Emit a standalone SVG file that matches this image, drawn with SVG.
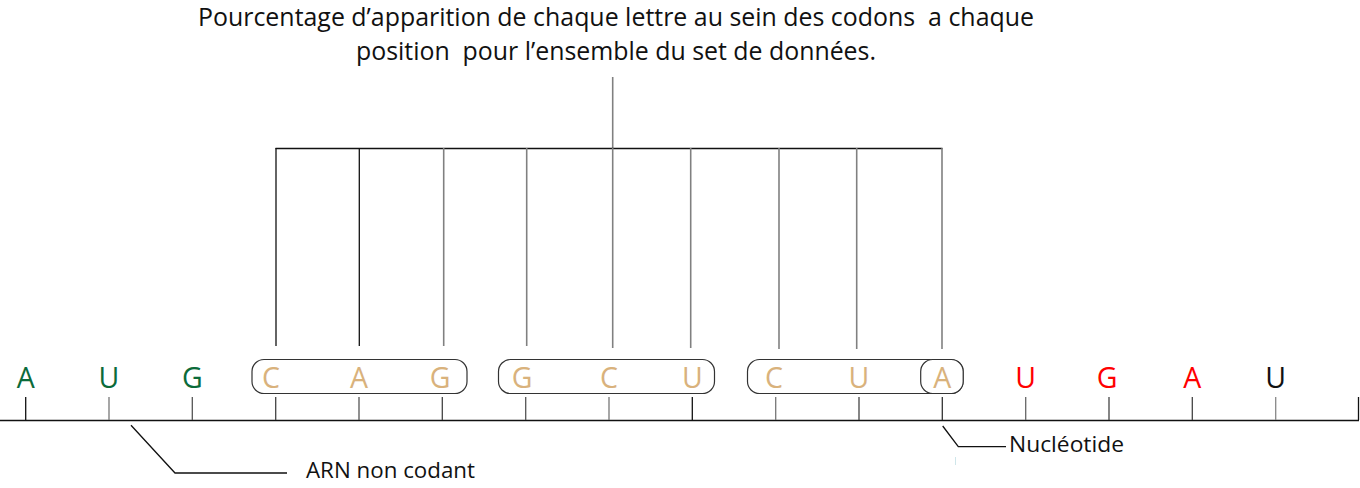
<svg xmlns="http://www.w3.org/2000/svg" width="1360" height="488" viewBox="0 0 1360 488">
<style>
.t{font-family:"Open Sans","Liberation Sans",sans-serif;fill:#111;white-space:pre}
.n{font-family:"Open Sans","Liberation Sans",sans-serif;font-size:28.5px;text-anchor:middle}
.g{fill:#0b6b3a}.c{fill:#d9b27c}.r{fill:#ff0000}.k{fill:#111}
.ln{stroke:#111;stroke-width:1.3;fill:none}
.gy{stroke:#808080;stroke-width:1.6;fill:none}
.bx{stroke:#333;stroke-width:1.2;fill:#fff}
</style>
<rect width="1360" height="488" fill="#fff"/>
<g id="title">
<text class="t" x="616" y="26" font-size="25.5" text-anchor="middle" textLength="836" lengthAdjust="spacingAndGlyphs" xml:space="preserve">Pourcentage d’apparition de chaque lettre au sein des codons  a chaque</text>
<text class="t" x="616" y="60" font-size="25.5" text-anchor="middle" textLength="520" lengthAdjust="spacingAndGlyphs" xml:space="preserve">position  pour l’ensemble du set de données.</text>
</g>
<g id="connectors">
<line class="gy" x1="612.7" y1="77" x2="612.7" y2="148.5"/>
<line class="ln" x1="275.5" y1="148.5" x2="942.5" y2="148.5"/>
<line class="ln" x1="276" y1="148" x2="276" y2="346"/>
<line class="ln" x1="359.3" y1="148" x2="359.3" y2="346"/>
<line class="gy" x1="443.7" y1="148" x2="443.7" y2="346"/>
<line class="gy" x1="526.7" y1="148" x2="526.7" y2="346"/>
<line class="gy" x1="612.7" y1="148" x2="612.7" y2="348"/>
<line class="gy" x1="690.7" y1="148" x2="690.7" y2="348"/>
<line class="gy" x1="779" y1="148" x2="779" y2="349"/>
<line class="gy" x1="856.7" y1="148" x2="856.7" y2="349"/>
<line class="gy" x1="942" y1="148" x2="942" y2="349"/>
<polyline class="ln" points="131,425.3 175,473 287,473"/>
<polyline class="ln" points="942.7,426 958.3,446.7 1006,446.7"/>
<line x1="955.5" y1="457" x2="955.5" y2="465" stroke="#cfe6ea" stroke-width="1"/>
</g>
<g id="axis">
<line class="ln" x1="0" y1="420.5" x2="1359" y2="420.5"/>
<g class="ln">
<line x1="25.7" y1="397" x2="25.7" y2="420"/>
<line x1="109" y1="397" x2="109" y2="420" stroke="#777"/>
<line x1="192.3" y1="397" x2="192.3" y2="420" stroke="#555"/>
<line x1="275.7" y1="397" x2="275.7" y2="420" stroke="#444"/>
<line x1="359" y1="397" x2="359" y2="420" stroke="#555"/>
<line x1="442.3" y1="397" x2="442.3" y2="420" stroke="#444"/>
<line x1="525.7" y1="397" x2="525.7" y2="420" stroke="#555"/>
<line x1="609" y1="397" x2="609" y2="420" stroke="#777"/>
<line x1="692.3" y1="397" x2="692.3" y2="420"/>
<line x1="775.7" y1="397" x2="775.7" y2="420" stroke="#777"/>
<line x1="859" y1="397" x2="859" y2="420" stroke="#444"/>
<line x1="942.3" y1="397" x2="942.3" y2="420" stroke="#333"/>
<line x1="1025.7" y1="397" x2="1025.7" y2="420" stroke="#666"/>
<line x1="1109" y1="397" x2="1109" y2="420" stroke="#444"/>
<line x1="1192.3" y1="397" x2="1192.3" y2="420" stroke="#444"/>
<line x1="1275.7" y1="397" x2="1275.7" y2="420" stroke="#888"/>
<line x1="1358.5" y1="397" x2="1358.5" y2="420"/>
</g>
</g>
<g id="codon1">
<rect class="bx" x="252" y="359.5" width="215" height="34" rx="12"/>
</g>
<g id="codon2">
<rect class="bx" x="498.5" y="359.5" width="216" height="34" rx="12"/>
</g>
<g id="codon3">
<rect class="bx" x="747.5" y="359.5" width="215.5" height="34" rx="12"/>
<rect class="bx" x="920.7" y="359.5" width="42.5" height="34" rx="12"/>
</g>
<g id="nucleotides">
<text class="n g" x="25.7" y="388">A</text>
<text class="n g" x="109" y="388">U</text>
<text class="n g" x="192.3" y="388">G</text>
<text class="n c" x="271" y="388">C</text>
<text class="n c" x="359" y="388">A</text>
<text class="n c" x="440" y="388">G</text>
<text class="n c" x="522" y="388">G</text>
<text class="n c" x="609" y="388">C</text>
<text class="n c" x="692.3" y="388">U</text>
<text class="n c" x="774" y="388">C</text>
<text class="n c" x="859" y="388">U</text>
<text class="n c" x="942.3" y="388">A</text>
<text class="n r" x="1025.7" y="388">U</text>
<text class="n r" x="1107" y="388">G</text>
<text class="n r" x="1192.3" y="388">A</text>
<text class="n k" x="1275.7" y="388">U</text>
</g>
<g id="label-arn">
<text class="t" x="306" y="478" font-size="22" textLength="169" lengthAdjust="spacingAndGlyphs">ARN non codant</text>
</g>
<g id="label-nucleotide">
<text class="t" x="1009" y="452" font-size="22" textLength="115" lengthAdjust="spacingAndGlyphs">Nucléotide</text>
</g>
</svg>
